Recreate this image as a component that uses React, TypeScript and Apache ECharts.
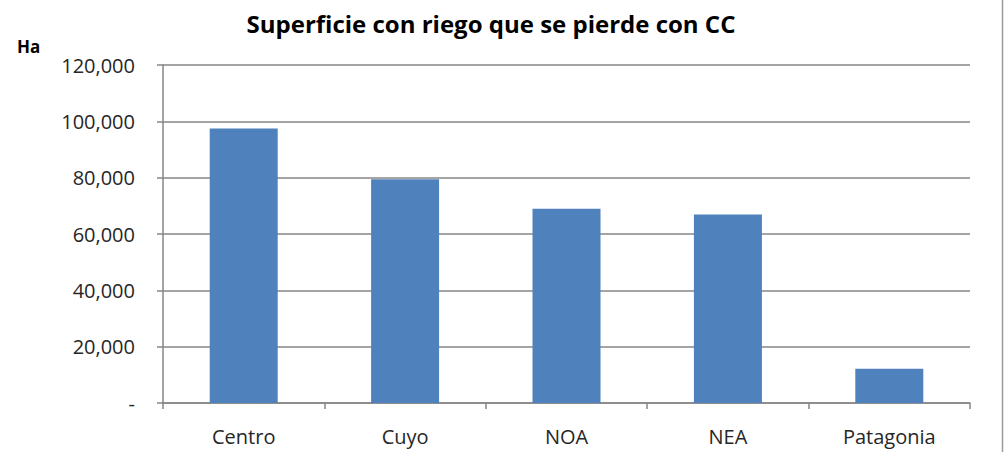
import React, { useEffect, useRef } from "react";
import * as echarts from "echarts";

const categories = ["Centro", "Cuyo", "NOA", "NEA", "Patagonia"];
const hectares = [97500, 79400, 69000, 66900, 12200];
const titleText = "Superficie con riego que se pierde con CC";
const unitLabel = "Ha";

export default function App() {
  const ref = useRef<HTMLDivElement>(null);
  useEffect(() => {
    if (!ref.current) return;
    const chart = echarts.init(ref.current, undefined, { renderer: "svg" });
    const font = "'Open Sans', 'Liberation Sans', sans-serif";
    chart.setOption({
      animation: false,
      backgroundColor: "#ffffff",
      textStyle: { fontFamily: font },
      grid: { left: 163, right: 37, top: 65, bottom: 49, containLabel: false },
      graphic: [
        {
          type: "text",
          x: 491,
          y: 23,
          style: {
            text: titleText,
            textAlign: "center",
            textVerticalAlign: "middle",
            fontFamily: font,
            fontWeight: "bold",
            fontSize: 24,
            fill: "#000000",
          },
        },
        {
          type: "text",
          x: 17,
          y: 46,
          style: {
            text: unitLabel,
            textAlign: "left",
            textVerticalAlign: "middle",
            fontFamily: font,
            fontWeight: "bold",
            fontSize: 17,
            fill: "#000000",
          },
        },
        {
          type: "line",
          shape: { x1: 1002.5, y1: 0, x2: 1002.5, y2: 452 },
          style: { stroke: "#9a9a9a", lineWidth: 1.5 },
        },
      ],
      xAxis: {
        type: "category",
        data: categories,
        boundaryGap: true,
        axisLine: { show: true, lineStyle: { color: "#868686", width: 1.5 } },
        axisTick: { show: true, alignWithLabel: false, length: 6, lineStyle: { color: "#868686", width: 1.5 } },
        axisLabel: { color: "#262626", fontSize: 20, margin: 23, fontFamily: font },
      },
      yAxis: {
        type: "value",
        min: 0,
        max: 120000,
        interval: 20000,
        axisLine: { show: true, lineStyle: { color: "#868686", width: 1.5 } },
        axisTick: { show: true, length: 6, lineStyle: { color: "#868686", width: 1.5 } },
        splitLine: { show: true, lineStyle: { color: "#868686", width: 1.5 } },
        axisLabel: {
          color: "#262626",
          fontSize: 20,
          margin: 28,
          fontFamily: font,
          formatter: (v: number) => (v === 0 ? "-" : v.toLocaleString("en-US")),
        },
      },
      series: [
        {
          type: "bar",
          data: hectares,
          barWidth: 68,
          itemStyle: { color: "#4f81bd" },
        },
      ],
    });
    return () => chart.dispose();
  }, []);
  return (
    <div
      ref={ref}
      style={{ position: "fixed", left: 0, top: 0, width: 1007, height: 452, background: "#fff" }}
    />
  );
}
